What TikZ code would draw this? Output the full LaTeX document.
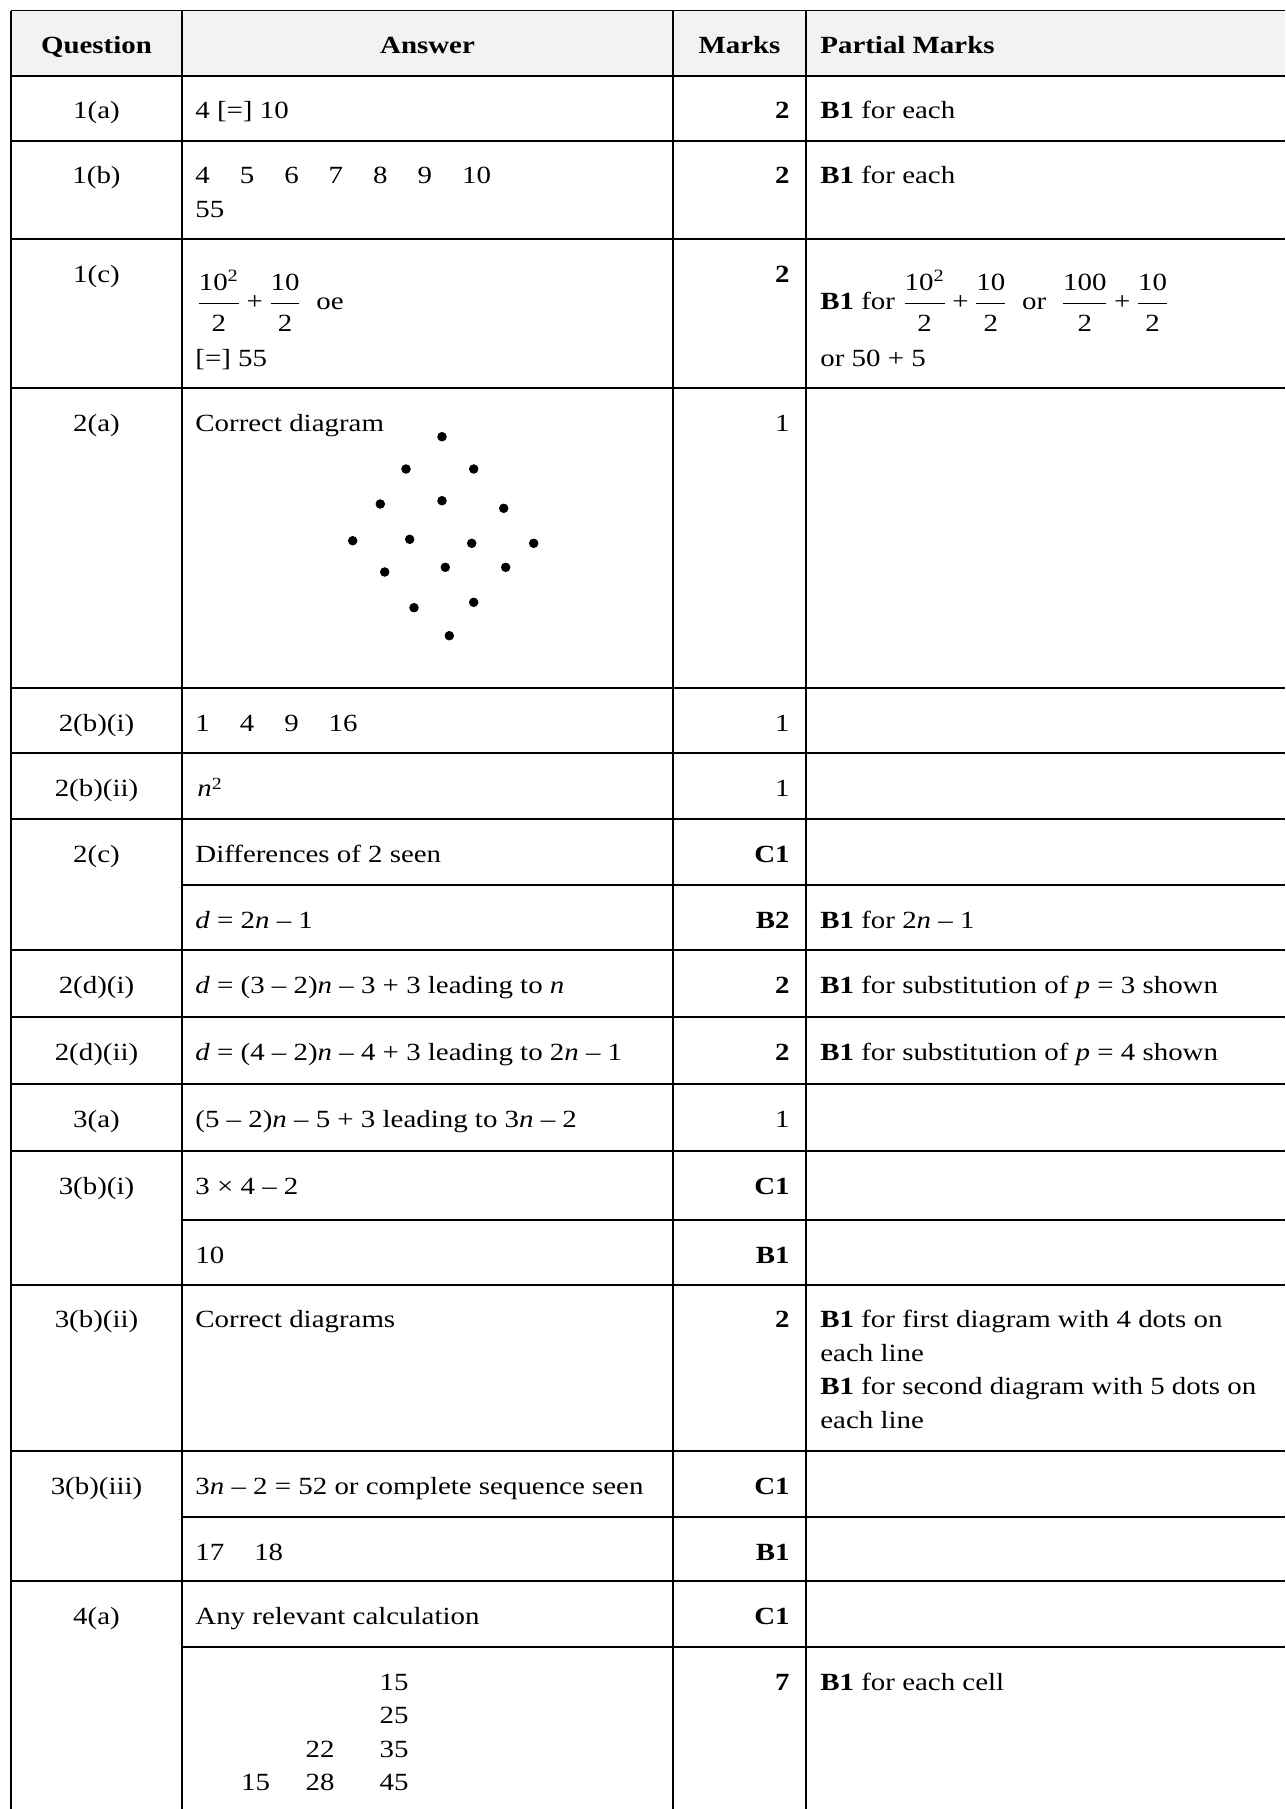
\documentclass[tikz,border=0pt]{standalone}
\usepackage{amsmath}
\usepackage{fontspec}
\setmainfont[FakeStretch=1.17]{Liberation Serif}
\newcommand\numgap{\hspace{15pt}}
\newcommand\frc[2]{\dfrac{\mbox{#1}\rule[-4.7pt]{0pt}{0pt}}{\rule{0pt}{12.7pt}\mbox{#2}}}
\newcommand\plus{\mathbin{\mbox{+}}}
\definecolor{headgrey}{HTML}{F2F2F2}
\tikzset{
	txt/.style={anchor=base west, inner sep=0pt, font=\fontsize{12.35}{16.75}\selectfont},
	ctr/.style={txt, anchor=base},
	rgt/.style={txt, anchor=base east},
	hrule/.style={line width=1pt},
	vrule/.style={line width=0.75pt},
}

\begin{document}
\begin{tikzpicture}[x=0.5pt, y=-0.5pt]
			%%%%% START %%%%%
			\useasboundingbox (0, 0) rectangle (1285, 1809);
			\fill[headgrey] (11, 10.7) rectangle (1285, 76);
			
			% rules
			\draw[line width=0.5pt] (11, 10.7) -- (1285, 10.7);
			\draw[hrule] (11, 76) -- (1285, 76);
			\draw[hrule] (11, 141) -- (1285, 141);
			\draw[hrule] (11, 239) -- (1285, 239);
			\draw[hrule] (11, 388) -- (1285, 388);
			\draw[hrule] (11, 688) -- (1285, 688);
			\draw[hrule] (11, 753) -- (1285, 753);
			\draw[hrule] (11, 819) -- (1285, 819);
			\draw[hrule] (182, 885) -- (1285, 885);
			\draw[hrule] (11, 950) -- (1285, 950);
			\draw[hrule] (11, 1017) -- (1285, 1017);
			\draw[hrule] (11, 1084) -- (1285, 1084);
			\draw[hrule] (11, 1151) -- (1285, 1151);
			\draw[hrule] (182, 1220) -- (1285, 1220);
			\draw[hrule] (11, 1284.5) -- (1285, 1284.5);
			\draw[hrule] (11, 1451) -- (1285, 1451);
			\draw[hrule] (182, 1517) -- (1285, 1517);
			\draw[hrule] (11, 1581) -- (1285, 1581);
			\draw[hrule] (182, 1647) -- (1285, 1647);
			
			\draw[vrule] (11, 10.7) -- (11, 1809);
			\draw[vrule] (182, 10.7) -- (182, 1809);
			\draw[vrule] (673, 10.7) -- (673, 1809);
			\draw[vrule] (806, 10.7) -- (806, 1809);
			
			% header
			\node[ctr] (hq) at (96.5, 54) {\textbf{Question}};
			\node[ctr] (ha) at (427.5, 54) {\textbf{Answer}};
			\node[ctr] (hm) at (739.5, 54) {\textbf{Marks}};
			\node[txt] (hp) at (820, 54) {\textbf{Partial Marks}};
			
			% 1(a)
			\node[ctr] (q1a) at (96.5, 119) {1(a)};
			\node[txt] (a1a) at (195, 119) {4 [=] 10};
			\node[rgt] (m1a) at (790, 119) {\textbf{2}};
			\node[txt] (p1a) at (820, 119) {\textbf{B1} for each};
			
			% 1(b)
			\node[ctr] (q1b) at (96.5, 184) {1(b)};
			\node[txt] (a1b) at (195, 184) {4\numgap5\numgap6\numgap7\numgap8\numgap9\numgap10};
			\node[txt] (a1bb) at (195, 217.5) {55};
			\node[rgt] (m1b) at (790, 184) {\textbf{2}};
			\node[txt] (p1b) at (820, 184) {\textbf{B1} for each};
			
			% 1(c)
			\node[ctr] (q1c) at (96.5, 282) {1(c)};
			\node[txt] (a1c) at (196, 309) {$\frc{10\textsuperscript{2}}{2}\plus\frc{10}{2}$ \ oe};
			\node[txt] (a1cc) at (195, 366) {[=] 55};
			\node[rgt] (m1c) at (790, 282) {\textbf{2}};
			\node[txt] (p1c) at (820, 309) {\textbf{B1} for $\frc{10\textsuperscript{2}}{2}\plus\frc{10}{2}$ \ or \ $\frc{100}{2}\plus\frc{10}{2}$};
			\node[txt] (p1cc) at (820, 366) {or 50 + 5};
			
			% 2(a)
			\node[ctr] (q2a) at (96.5, 431) {2(a)};
			\node[txt] (a2a) at (195, 431) {Correct diagram};
			\node[rgt] (m2a) at (790, 431) {1};
			\draw[fill=black] (442, 436.7) circle (2.15pt);
			\draw[fill=black] (406, 469) circle (2.15pt);
			\draw[fill=black] (473.7, 469) circle (2.15pt);
			\draw[fill=black] (380.3, 504) circle (2.15pt);
			\draw[fill=black] (442, 500.7) circle (2.15pt);
			\draw[fill=black] (503.7, 508.3) circle (2.15pt);
			\draw[fill=black] (352.7, 540.7) circle (2.15pt);
			\draw[fill=black] (409.7, 539.3) circle (2.15pt);
			\draw[fill=black] (471.7, 543.3) circle (2.15pt);
			\draw[fill=black] (533.7, 543.3) circle (2.15pt);
			\draw[fill=black] (384.7, 572) circle (2.15pt);
			\draw[fill=black] (445.3, 567.3) circle (2.15pt);
			\draw[fill=black] (505.7, 567.3) circle (2.15pt);
			\draw[fill=black] (414, 607.7) circle (2.15pt);
			\draw[fill=black] (473.7, 602.3) circle (2.15pt);
			\draw[fill=black] (449.3, 635.7) circle (2.15pt);
			
			% 2(b)
			\node[ctr] (q2bi) at (96.5, 731) {2(b)(i)};
			\node[txt] (a2bi) at (195, 731) {1\numgap4\numgap9\numgap16};
			\node[rgt] (m2bi) at (790, 731) {1};
			\node[ctr] (q2bii) at (96.5, 796) {2(b)(ii)};
			\node[txt] (a2bii) at (197, 796) {\textit{n}\raisebox{0.55ex}{\fontsize{8.5}{10}\selectfont 2}};
			\node[rgt] (m2bii) at (790, 796) {1};
			
			% 2(c)
			\node[ctr] (q2c) at (96.5, 862) {2(c)};
			\node[txt] (a2c) at (195, 862) {Differences of 2 seen};
			\node[rgt] (m2c) at (790, 862) {\textbf{C1}};
			\node[txt] (a2cc) at (195, 928) {\textit{d} = 2\textit{n} – 1};
			\node[rgt] (m2cc) at (790, 928) {\textbf{B2}};
			\node[txt] (p2cc) at (820, 928) {\textbf{B1} for 2\textit{n} – 1};
			
			% 2(d)
			\node[ctr] (q2di) at (96.5, 993) {2(d)(i)};
			\node[txt] (a2di) at (195, 993) {\textit{d} = (3 – 2)\textit{n} – 3 + 3 leading to \textit{n}};
			\node[rgt] (m2di) at (790, 993) {\textbf{2}};
			\node[txt] (p2di) at (820, 993) {\textbf{B1} for substitution of \textit{p} = 3 shown};
			\node[ctr] (q2dii) at (96.5, 1060) {2(d)(ii)};
			\node[txt] (a2dii) at (195, 1060) {\textit{d} = (4 – 2)\textit{n} – 4 + 3 leading to 2\textit{n} – 1};
			\node[rgt] (m2dii) at (790, 1060) {\textbf{2}};
			\node[txt] (p2dii) at (820, 1060) {\textbf{B1} for substitution of \textit{p} = 4 shown};
			
			% 3(a)
			\node[ctr] (q3a) at (96.5, 1127) {3(a)};
			\node[txt] (a3a) at (195, 1127) {(5 – 2)\textit{n} – 5 + 3 leading to 3\textit{n} – 2};
			\node[rgt] (m3a) at (790, 1127) {1};
			
			% 3(b)
			\node[ctr] (q3bi) at (96.5, 1194) {3(b)(i)};
			\node[txt] (a3bi) at (195, 1194) {3 × 4 – 2};
			\node[rgt] (m3bi) at (790, 1194) {\textbf{C1}};
			\node[txt] (a3bii) at (195, 1263) {10};
			\node[rgt] (m3bii) at (790, 1263) {\textbf{B1}};
			
			\node[ctr] (q3bii) at (96.5, 1327.5) {3(b)(ii)};
			\node[txt] (a3bd) at (195, 1327.5) {Correct diagrams};
			\node[rgt] (m3bd) at (790, 1327.5) {\textbf{2}};
			\node[txt] (p3bd) at (820, 1327.5) {\textbf{B1} for first diagram with 4 dots on};
			\node[txt] (p3bdb) at (820, 1361) {each line};
			\node[txt] (p3bdc) at (820, 1394.5) {\textbf{B1} for second diagram with 5 dots on};
			\node[txt] (p3bdd) at (820, 1428) {each line};
			
			\node[ctr] (q3biii) at (96.5, 1494) {3(b)(iii)};
			\node[txt] (a3biii) at (195, 1494) {3\textit{n} – 2 = 52 or complete sequence seen};
			\node[rgt] (m3biii) at (790, 1494) {\textbf{C1}};
			\node[txt] (a3biv) at (195, 1560) {17\numgap18};
			\node[rgt] (m3biv) at (790, 1560) {\textbf{B1}};
			
			% 4(a)
			\node[ctr] (q4a) at (96.5, 1624) {4(a)};
			\node[txt] (a4a) at (195, 1624) {Any relevant calculation};
			\node[rgt] (m4a) at (790, 1624) {\textbf{C1}};
			\node[ctr] (c15a) at (394, 1690) {15};
			\node[ctr] (c25) at (394, 1723.5) {25};
			\node[ctr] (c22) at (320, 1757) {22};
			\node[ctr] (c35) at (394, 1757) {35};
			\node[ctr] (c15b) at (255.5, 1790.5) {15};
			\node[ctr] (c28) at (320, 1790.5) {28};
			\node[ctr] (c45) at (394, 1790.5) {45};
			\node[rgt] (m4b) at (790, 1690) {\textbf{7}};
			\node[txt] (p4b) at (820, 1690) {\textbf{B1} for each cell};
			%%%%% END %%%%%
		\end{tikzpicture}
\end{document}
